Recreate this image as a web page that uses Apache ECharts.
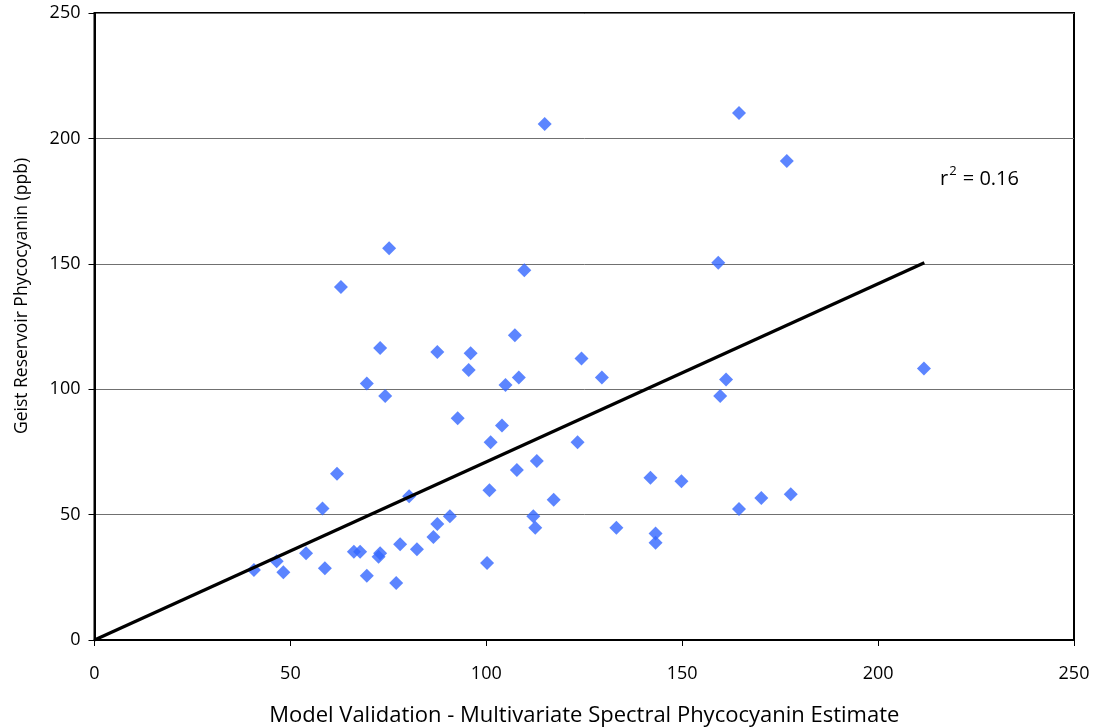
<!DOCTYPE html>
<html>
<head>
<meta charset="utf-8">
<script src="https://cdn.jsdelivr.net/npm/echarts@6/dist/echarts.min.js"></script>
<style>
  html, body { margin: 0; padding: 0; background: #fff; }
  #chart { width: 1098px; height: 728px; }
</style>
</head>
<body>
<div id="chart"></div>
<script>
// Multivariate spectral estimate (x) vs measured phycocyanin (y), ppb
const estimate = [
  40.7, 46.5, 48.2, 54.0, 58.2, 58.8, 61.9, 62.9, 66.2, 67.8,
  69.5, 69.5, 72.5, 72.9, 72.9, 74.2, 75.2, 77.0, 78.0, 80.3,
  82.3, 86.5, 87.5, 87.5, 90.7, 92.7, 95.5, 96.0, 100.2, 100.8,
  101.1, 104.0, 104.9, 107.3, 107.8, 108.3, 109.7, 112.0, 112.5, 112.9,
  114.9, 117.2, 123.3, 124.3, 129.5, 133.2, 141.9, 143.2, 143.2, 149.8,
  159.2, 159.7, 161.2, 164.5, 164.5, 170.2, 176.7, 177.7, 211.7
];
const measured = [
  27.9, 31.4, 27.0, 34.6, 52.4, 28.6, 66.3, 140.7, 35.2, 35.2,
  25.6, 102.3, 33.2, 34.6, 116.4, 97.3, 156.2, 22.7, 38.2, 57.3,
  36.2, 41.1, 46.3, 114.8, 49.3, 88.4, 107.7, 114.3, 30.7, 59.7,
  78.8, 85.5, 101.7, 121.5, 67.8, 104.7, 147.4, 49.3, 44.8, 71.4,
  205.7, 55.9, 78.8, 112.2, 104.7, 44.8, 64.7, 42.5, 38.8, 63.3,
  150.4, 97.3, 103.9, 210.1, 52.2, 56.6, 191.0, 58.1, 108.3
];
// Fitted trend line endpoints
const trendX = [0, 211.8];
const trendY = [0, 150.4];
const rSquared = '0.16';
const xTicks = [0, 50, 100, 150, 200, 250];
const yTicks = [0, 50, 100, 150, 200, 250];
const xTitle = 'Model Validation - Multivariate Spectral Phycocyanin Estimate';
const yTitle = 'Geist Reservoir Phycocyanin (ppb)';

const font = '"Open Sans", "Noto Sans", sans-serif';
const points = estimate.map((x, i) => [x, measured[i]]);
const trend = trendX.map((x, i) => [x, trendY[i]]);

const chart = echarts.init(document.getElementById('chart'), null, { renderer: 'canvas' });
chart.setOption({
  animation: false,
  backgroundColor: '#fff',
  grid: {
    left: 94.5, right: 24, top: 13, bottom: 88,
    outerBoundsMode: 'none',
    containLabel: false,
    show: true, borderColor: '#000', borderWidth: 2, backgroundColor: 'transparent'
  },
  xAxis: {
    type: 'value',
    min: xTicks[0], max: xTicks[xTicks.length - 1], interval: 50,
    name: xTitle,
    nameLocation: 'middle', nameGap: 65,
    nameTextStyle: { fontFamily: font, fontSize: 22, color: '#000' },
    axisLine: { show: true, lineStyle: { color: '#000', width: 2 } },
    axisTick: { show: true, inside: false, length: 6, lineStyle: { color: '#000', width: 1 } },
    axisLabel: { fontFamily: font, fontSize: 18, color: '#000', margin: 25 },
    splitLine: { show: false }
  },
  yAxis: {
    type: 'value',
    min: yTicks[0], max: yTicks[yTicks.length - 1], interval: 50,
    axisLine: { show: true, lineStyle: { color: '#000', width: 2 } },
    axisTick: { show: true, inside: false, length: 6, lineStyle: { color: '#000', width: 1 } },
    axisLabel: { fontFamily: font, fontSize: 18, color: '#000', margin: 14 },
    splitLine: { show: true, lineStyle: { color: '#707070', width: 1 } }
  },
  graphic: [
    {
      type: 'text',
      x: 22, y: 296,
      rotation: Math.PI / 2,
      style: {
        text: yTitle,
        fontFamily: font, fontSize: 17.5, fill: '#000',
        align: 'center', verticalAlign: 'middle'
      }
    },
    {
      type: 'text',
      left: 940, top: 163,
      style: {
        text: '{b|r}{s|2}{b| = ' + rSquared + '}',
        rich: {
          b: { fontFamily: font, fontSize: 20, fill: '#000', lineHeight: 26, verticalAlign: 'bottom' },
          s: { fontFamily: font, fontSize: 13, fill: '#000', lineHeight: 14, verticalAlign: 'top', padding: [2, 1, 0, 1] }
        }
      }
    }
  ],
  series: [
    {
      type: 'scatter',
      data: points,
      symbol: 'diamond',
      symbolSize: 14,
      itemStyle: { color: '#3366FF' },
      z: 3
    },
    {
      type: 'line',
      data: trend,
      symbol: 'none',
      lineStyle: { color: '#000', width: 3.2 },
      z: 4
    }
  ]
});
</script>
</body>
</html>
